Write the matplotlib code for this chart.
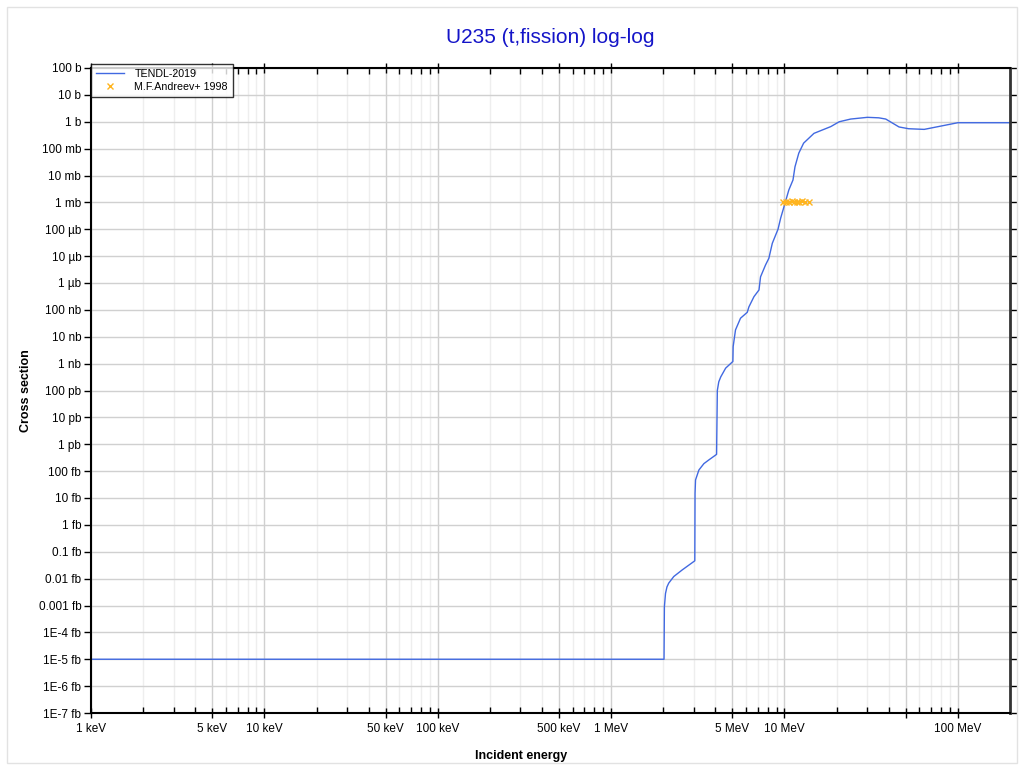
import matplotlib
matplotlib.use("Agg")
import matplotlib.pyplot as plt
from matplotlib.patches import Rectangle
from matplotlib.ticker import FixedLocator, NullFormatter

plt.rcParams['font.family'] = ['Liberation Sans', 'DejaVu Sans']

# TENDL-2019 evaluation: incident energy (MeV) and cross section (b)
tendl_energy = [0.001, 2.02, 2.03, 2.06, 2.10, 2.15, 2.30, 2.57, 3.04, 3.05, 3.07, 3.21, 3.43,
                3.66, 4.06, 4.10, 4.18, 4.29, 4.58, 5.04, 5.06, 5.22, 5.58, 6.10, 6.24, 6.67,
                7.13, 7.28, 7.78, 8.13, 8.51, 9.18, 9.51, 10.0, 10.6, 11.2, 11.5, 12.1,
                12.9, 14.8, 18.5, 20.7, 24.1, 30.1, 35.0, 38.4, 45.8, 52.0, 64.0, 100.0, 200.0]
tendl_xs = [1e-20, 1e-20, 9e-19, 2.8e-18, 4.9e-18, 6.8e-18, 1.2e-17, 2.1e-17, 4.6e-17, 1.5e-14,
            4.7e-14, 1.1e-13, 1.9e-13, 2.6e-13, 4.2e-13, 1.0e-10, 2.1e-10, 3.2e-10, 6.8e-10,
            1.2e-9, 4.3e-9, 1.8e-8, 4.9e-8, 8.1e-8, 1.3e-7, 3.1e-7, 5.5e-7, 1.7e-6,
            4.7e-6, 8.3e-6, 3.0e-5, 1.0e-4, 2.6e-4, 7.9e-4, 2.9e-3, 6.8e-3, 2.1e-2,
            6.8e-2, 0.16, 0.37, 0.66, 1.0, 1.26, 1.46, 1.40, 1.26, 0.64, 0.55, 0.52, 0.92, 0.92]

# M.F.Andreev+ 1998 measurement
andreev_energy = [9.8, 10.2, 10.6, 11.0, 11.4, 11.8, 12.2, 12.7, 13.2, 13.8]
andreev_xs = [1.02e-3, 1.05e-3, 1.04e-3, 1.08e-3, 1.06e-3, 1.07e-3, 1.05e-3, 1.08e-3, 1.06e-3, 1.07e-3]

x_major = [0.001, 0.005, 0.01, 0.05, 0.1, 0.5, 1, 5, 10, 50, 100]
x_labels = ['1 keV', '5 keV', '10 keV', '50 keV', '100 keV', '500 keV', '1 MeV',
            '5 MeV', '10 MeV', '', '100 MeV']
y_major = [10.0 ** k for k in range(-22, 3)]
y_labels = ['1E-7 fb', '1E-6 fb', '1E-5 fb', '1E-4 fb', '0.001 fb', '0.01 fb', '0.1 fb',
            '1 fb', '10 fb', '100 fb', '1 pb', '10 pb', '100 pb', '1 nb', '10 nb',
            '100 nb', '1 µb', '10 µb', '100 µb', '1 mb', '10 mb', '100 mb', '1 b',
            '10 b', '100 b']

fig = plt.figure(figsize=(10.24, 7.73), dpi=100)
fig.patches.append(Rectangle((0.007, 0.013), 0.986, 0.978, transform=fig.transFigure,
                             fill=False, edgecolor='#e2e2e2', linewidth=1))
ax = fig.add_axes([91 / 1024, 1 - 713 / 773, (1010 - 91) / 1024, (713 - 68) / 773])

ax.set_xscale('log')
ax.set_yscale('log')
ax.set_xlim(0.001, 200)
ax.set_ylim(1e-22, 100)

minor = []
for d in [0.001, 0.01, 0.1, 1, 10, 100]:
    for m in [2, 3, 4, 6, 7, 8, 9]:
        v = d * m
        if v < 200:
            minor.append(v)

ax.xaxis.set_major_locator(FixedLocator(x_major))
ax.set_xticklabels(x_labels)
ax.xaxis.set_minor_locator(FixedLocator(minor))
ax.xaxis.set_minor_formatter(NullFormatter())
ax.yaxis.set_major_locator(FixedLocator(y_major))
ax.set_yticklabels(y_labels)
ax.yaxis.set_minor_locator(FixedLocator([]))

ax.grid(True, which='major', axis='both', color='#d0d0d0', linewidth=1)
ax.grid(True, which='minor', axis='x', color='#eeeeee', linewidth=1)
ax.set_axisbelow(True)

ax.tick_params(axis='x', which='major', direction='inout', length=7, width=1,
               labelsize=8.5, pad=4, top=True)
ax.tick_params(axis='x', which='minor', direction='in', length=4, width=1, top=True)
ax.tick_params(axis='y', which='major', direction='out', length=5, width=1,
               labelsize=8.5, pad=2, right=True)
for side in ['left', 'bottom', 'top']:
    ax.spines[side].set_linewidth(1.5)
    ax.spines[side].set_color('black')
ax.spines['right'].set_linewidth(2)
ax.spines['right'].set_color('#333333')

ax.plot(tendl_energy, tendl_xs, color='#4169e1', linewidth=1, label='TENDL-2019')
ax.plot(andreev_energy, andreev_xs, linestyle='none', marker='x', markersize=5,
        markeredgewidth=1, color='#ffb41e', label='M.F.Andreev+ 1998')

ax.set_title('U235 (t,fission) log-log', color='#1414c8', fontsize=15, pad=18)
ax.set_xlabel('Incident energy', fontweight='bold', fontsize=9)
ax.set_ylabel('Cross section', fontweight='bold', fontsize=9)
ax.xaxis.set_label_coords(0.468, -0.058)
ax.yaxis.set_label_coords(-0.064, 0.5)

leg = ax.legend(loc='upper left', bbox_to_anchor=(0, 1.006), borderaxespad=0,
                fontsize=7.7, frameon=True, fancybox=False, handlelength=2.6,
                handletextpad=1.0, borderpad=0.45, labelspacing=0.3)
leg.get_frame().set_edgecolor('black')
leg.get_frame().set_linewidth(1)

fig.savefig('out.png', dpi=100)
